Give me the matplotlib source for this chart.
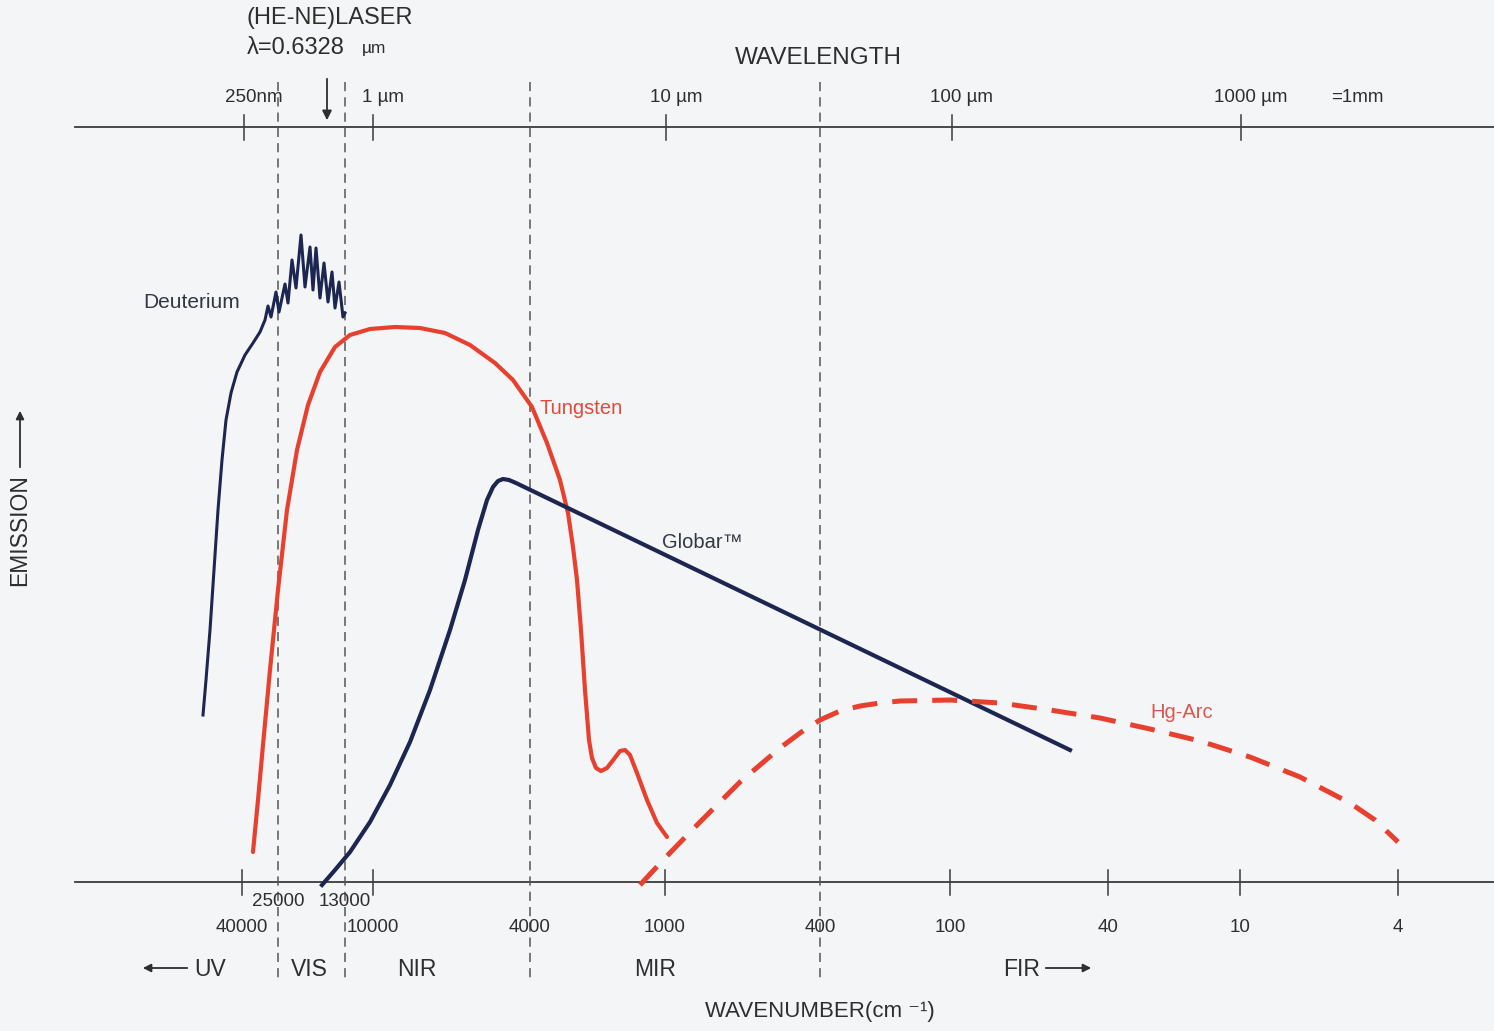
import matplotlib.pyplot as plt
import numpy as np

plt.rcParams['font.family'] = ['Liberation Sans', 'DejaVu Sans']

# schematic x position (spectrum is not drawn to scale), y = emission above baseline
wn_labels = ["40000", "10000", "4000", "1000", "400", "100", "40", "10", "4"]
wn_x = [242, 373, 530, 665, 820, 950, 1108, 1240, 1398]
wn_upper_labels = ["25000", "13000"]
wn_upper_x = [278, 345]
wl_labels = ["250nm", "1 µm", "10 µm", "100 µm", "1000 µm"]
wl_x = [244, 373, 666, 952, 1241]
region_bounds = [278, 345, 530, 820]

deut_x = [203, 206, 210, 214, 218, 222, 226, 231, 237, 245, 253, 260, 265, 268, 271, 276,
          279, 285, 288, 292, 296, 301, 305, 310, 313, 316, 320, 324, 328, 332, 335, 339,
          343, 345]
deut_y = [167, 202, 252, 312, 372, 422, 462, 489, 510, 527, 539, 550, 562, 576, 565, 590,
          570, 598, 579, 622, 594, 647, 595, 635, 592, 634, 584, 619, 580, 610, 574, 600,
          565, 569]

tung_x = [253, 258, 263, 270, 278, 287, 297, 308, 320, 335, 350, 370, 395, 420, 445, 470,
          495, 513, 532, 547, 560, 568, 573, 577, 581, 585, 589, 592, 596, 601, 607, 614,
          620, 625, 630, 637, 647, 657, 667]
tung_y = [30, 82, 137, 212, 292, 372, 432, 477, 510, 535, 547, 553, 555, 554, 549, 537,
          519, 502, 475, 439, 402, 369, 335, 302, 252, 192, 142, 124, 114, 111, 114, 123,
          131, 132, 127, 109, 82, 59, 45]

glob_x = [322, 335, 350, 370, 390, 410, 430, 450, 465, 478, 487, 493, 498, 503, 509, 516,
          1070]
glob_y = [-3, 12, 30, 60, 97, 140, 192, 252, 302, 352, 382, 395, 401, 403, 402, 399, 132]

hg_x = [640, 665, 700, 740, 780, 800, 820, 840, 860, 880, 900, 950, 1000, 1050, 1100,
        1150, 1200, 1250, 1300, 1350, 1375, 1398]
hg_y = [-3, 24, 60, 100, 134, 149, 162, 171, 176, 179, 181, 182, 179, 172, 164, 153, 141,
        125, 105, 79, 62, 40]

navy = "#1d2651"
red = "#e8402f"
ink = "#2e2e2e"

fig = plt.figure(figsize=(14.94, 10.31), dpi=100)
fig.patch.set_facecolor("#f4f5f7")
ax = fig.add_axes([0, 0, 1, 1])
ax.set_xlim(0, 1494)
ax.set_ylim(-149, 882)
ax.axis("off")

# axes lines
top = 755
ax.plot([75, 1494], [top, top], color="#3a3a3a", lw=1.3)
ax.plot([75, 1494], [0, 0], color="#3a3a3a", lw=1.3)

for x in wl_x:
    ax.plot([x, x], [top + 12, top - 13], color="#3a3a3a", lw=1.1)
for x, lab in zip(wl_x, wl_labels):
    ax.text(x + 10, 784, lab, ha="center", va="center", fontsize=13.5, color=ink)
ax.text(1357, 784, "=1mm", ha="center", va="center", fontsize=13.5, color=ink)

for x, lab in zip(wn_x, wn_labels):
    if x not in region_bounds:
        ax.plot([x, x], [12, -13], color="#3a3a3a", lw=1.1)
    ax.text(x, -46, lab, ha="center", va="center", fontsize=13.5, color=ink)
for x, lab in zip(wn_upper_x, wn_upper_labels):
    ax.text(x, -20, lab, ha="center", va="center", fontsize=13.5, color=ink)

for x in region_bounds:
    ax.plot([x, x], [800, -100], color="#555555", lw=1.1, dashes=(6, 4))

# curves
ax.plot(deut_x, deut_y, color=navy, lw=2.2)
ax.plot(tung_x, tung_y, color=red, lw=3.0, solid_capstyle="round", solid_joinstyle="round")
ax.plot(glob_x, glob_y, color=navy, lw=3.0, solid_joinstyle="round")
ax.plot(hg_x, hg_y, color=red, lw=3.6, dashes=(5, 3))

ax.text(143, 580, "Deuterium", fontsize=15, color="#333744", va="center")
ax.text(540, 473, "Tungsten", fontsize=14.5, color="#e0493b", va="center")
ax.text(662, 340, "Globar™", fontsize=14.5, color="#333744", va="center")
ax.text(1150, 170, "Hg-Arc", fontsize=14.5, color="#d9584f", va="center")

# titles and annotations
ax.text(818, 824, "WAVELENGTH", ha="center", va="center", fontsize=17.5, color=ink)
ax.text(247, 864, "(HE-NE)LASER", ha="left", va="center", fontsize=17, color=ink)
ax.text(247, 834, "λ=0.6328", ha="left", va="center", fontsize=17, color=ink)
ax.text(362, 834, "µm", ha="left", va="center", fontsize=12.5, color=ink)
ax.annotate("", xy=(327, 759), xytext=(327, 806),
            arrowprops=dict(arrowstyle="-|>", color=ink, lw=1.3, mutation_scale=14))

ax.text(820, -130, "WAVENUMBER(cm ⁻¹)", ha="center", va="center", fontsize=16, color=ink)

ax.text(210, -88, "UV", ha="center", va="center", fontsize=16.5, color=ink)
ax.annotate("", xy=(140, -86), xytext=(190, -86),
            arrowprops=dict(arrowstyle="-|>", color=ink, lw=1.3, mutation_scale=12))
ax.text(309, -88, "VIS", ha="center", va="center", fontsize=16.5, color=ink)
ax.text(417, -88, "NIR", ha="center", va="center", fontsize=16.5, color=ink)
ax.text(655, -88, "MIR", ha="center", va="center", fontsize=16.5, color=ink)
ax.text(1022, -88, "FIR", ha="center", va="center", fontsize=16.5, color=ink)
ax.annotate("", xy=(1094, -86), xytext=(1043, -86),
            arrowprops=dict(arrowstyle="-|>", color=ink, lw=1.3, mutation_scale=12))

ax.text(20, 352, "EMISSION", rotation=90, ha="center", va="center", fontsize=16.5, color=ink)
ax.annotate("", xy=(20, 474), xytext=(20, 412),
            arrowprops=dict(arrowstyle="-|>", color=ink, lw=1.3, mutation_scale=12))

fig.savefig("out.png", dpi=100, facecolor=fig.get_facecolor())
